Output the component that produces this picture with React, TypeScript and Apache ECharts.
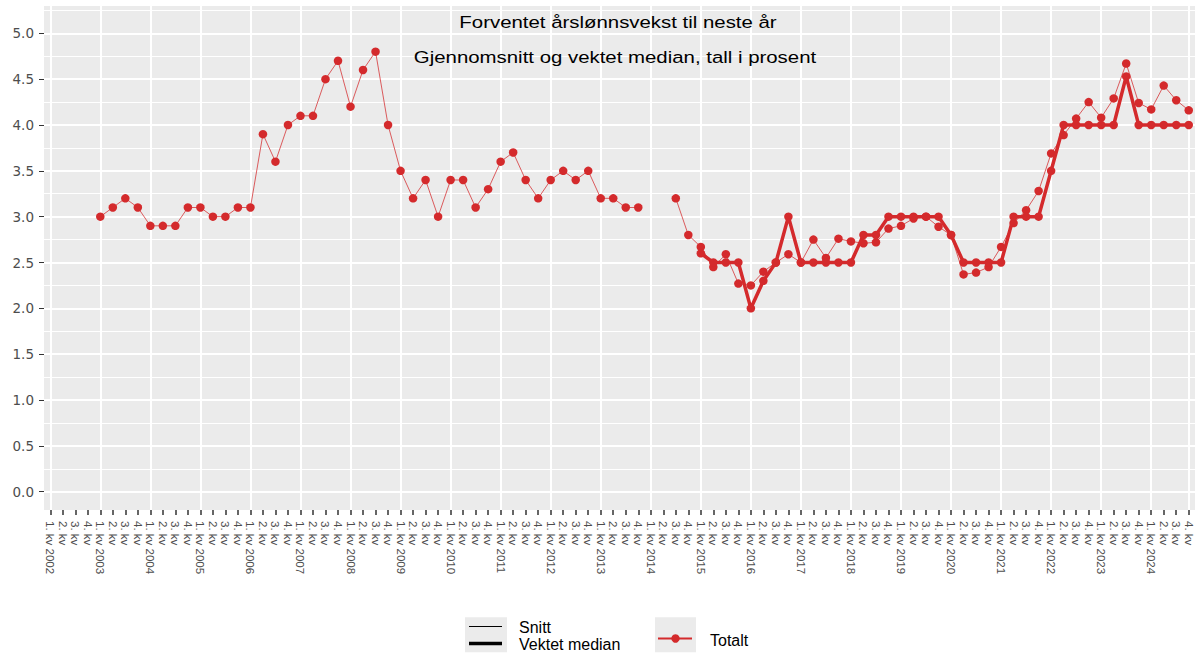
import React, { useEffect, useRef } from "react";
import * as echarts from "echarts";

const years = [
  2002, 2003, 2004, 2005, 2006, 2007, 2008, 2009, 2010, 2011, 2012, 2013,
  2014, 2015, 2016, 2017, 2018, 2019, 2020, 2021, 2022, 2023, 2024,
];
const quarters = ["1. kv", "2. kv", "3. kv", "4. kv"];
const categories = years.flatMap((y) =>
  quarters.map((q, i) => (i === 0 ? `${q} ${y}` : q))
);

// Snitt (gjennomsnitt), per kvartal 2002–2024
const snitt: (number | null)[] = [
  null, null, null, null, // 2002
  3.0, 3.1, 3.2, 3.1, // 2003
  2.9, 2.9, 2.9, 3.1, // 2004
  3.1, 3.0, 3.0, 3.1, // 2005
  3.1, 3.9, 3.6, 4.0, // 2006
  4.1, 4.1, 4.5, 4.7, // 2007
  4.2, 4.6, 4.8, 4.0, // 2008
  3.5, 3.2, 3.4, 3.0, // 2009
  3.4, 3.4, 3.1, 3.3, // 2010
  3.6, 3.7, 3.4, 3.2, // 2011
  3.4, 3.5, 3.4, 3.5, // 2012
  3.2, 3.2, 3.1, 3.1, // 2013
  null, null, 3.2, 2.8, // 2014
  2.67, 2.45, 2.59, 2.27, // 2015
  2.25, 2.4, 2.5, 2.59, // 2016
  2.5, 2.75, 2.55, 2.76, // 2017
  2.73, 2.71, 2.72, 2.87, // 2018
  2.9, 2.98, 3.0, 2.89, // 2019
  2.8, 2.37, 2.39, 2.45, // 2020
  2.67, 2.93, 3.07, 3.28, // 2021
  3.69, 3.89, 4.07, 4.25, // 2022
  4.08, 4.29, 4.67, 4.24, // 2023
  4.17, 4.43, 4.27, 4.16, // 2024
];

// Vektet median, per kvartal 2002–2024
const median: (number | null)[] = [
  null, null, null, null, // 2002
  null, null, null, null, // 2003
  null, null, null, null, // 2004
  null, null, null, null, // 2005
  null, null, null, null, // 2006
  null, null, null, null, // 2007
  null, null, null, null, // 2008
  null, null, null, null, // 2009
  null, null, null, null, // 2010
  null, null, null, null, // 2011
  null, null, null, null, // 2012
  null, null, null, null, // 2013
  null, null, null, null, // 2014
  2.6, 2.5, 2.5, 2.5, // 2015
  2.0, 2.3, 2.5, 3.0, // 2016
  2.5, 2.5, 2.5, 2.5, // 2017
  2.5, 2.8, 2.8, 3.0, // 2018
  3.0, 3.0, 3.0, 3.0, // 2019
  2.8, 2.5, 2.5, 2.5, // 2020
  2.5, 3.0, 3.0, 3.0, // 2021
  3.5, 4.0, 4.0, 4.0, // 2022
  4.0, 4.0, 4.53, 4.0, // 2023
  4.0, 4.0, 4.0, 4.0, // 2024
];

const RED = "#d42a2c";
const SANS = '"Liberation Sans", Arial, sans-serif';

export default function App() {
  const ref = useRef<HTMLDivElement>(null);

  useEffect(() => {
    if (!ref.current) return;
    const chart = echarts.init(ref.current, undefined, { renderer: "svg" });
    const option: any = {
      animation: false,
      backgroundColor: "#ffffff",
      grid: [
        // panel background + x axis
        {
          left: 44,
          right: 1,
          top: 6,
          bottom: 144,
          show: true,
          backgroundColor: "#ebebeb",
          borderWidth: 0,
        },
        // data area, y from 0 to 5
        { left: 44, right: 1, top: 33.3, bottom: 162.3 },
        // strip above 5.0 for the upper minor grid line
        { left: 44, right: 1, top: 10.4, bottom: 620.7 },
      ],
      xAxis: [
        {
          type: "category",
          gridIndex: 0,
          data: categories,
          boundaryGap: true,
          axisLine: { show: false },
          axisTick: {
            show: true,
            alignWithLabel: true,
            interval: 0,
            length: 5,
            lineStyle: { color: "#333333", width: 1.5 },
          },
          axisLabel: {
            interval: 0,
            rotate: -90,
            margin: 11,
            fontSize: 11.5,
            fontFamily: SANS,
            color: "#4d4d4d",
          },
          splitLine: {
            show: true,
            interval: 3,
            alignWithLabel: true,
            lineStyle: { color: "#ffffff", width: 2 },
          },
        },
        {
          type: "category",
          gridIndex: 1,
          data: categories,
          boundaryGap: true,
          show: false,
          splitLine: { show: false },
        },
        {
          type: "category",
          gridIndex: 2,
          data: categories,
          boundaryGap: true,
          show: false,
          splitLine: { show: false },
        },
      ],
      yAxis: [
        {
          type: "value",
          gridIndex: 0,
          min: 0,
          max: 1,
          show: false,
          splitLine: { show: false },
        },
        {
          type: "value",
          gridIndex: 1,
          min: 0,
          max: 5,
          interval: 0.5,
          axisLine: { show: false },
          axisTick: {
            show: true,
            length: 5,
            lineStyle: { color: "#333333", width: 1 },
          },
          axisLabel: {
            margin: 10,
            fontSize: 13.5,
            fontFamily: '"DejaVu Sans", sans-serif',
            color: "#4d4d4d",
            formatter: (v: number) => v.toFixed(1),
          },
          splitLine: { show: true, lineStyle: { color: "#ffffff", width: 2 } },
          minorTick: { show: false, splitNumber: 2 },
          minorSplitLine: {
            show: true,
            lineStyle: { color: "#ffffff", width: 1 },
          },
        },
        {
          type: "value",
          gridIndex: 2,
          min: 5,
          max: 5.25,
          interval: 0.25,
          axisLine: { show: false },
          axisTick: { show: false },
          axisLabel: { show: false },
          splitLine: { show: true, lineStyle: { color: "#ffffff", width: 1 } },
        },
      ],
      series: [
        {
          name: "Snitt",
          type: "line",
          xAxisIndex: 1,
          yAxisIndex: 1,
          data: snitt,
          symbol: "circle",
          symbolSize: 8.5,
          showSymbol: true,
          showAllSymbol: true,
          connectNulls: false,
          lineStyle: { color: RED, width: 1, opacity: 0.75 },
          itemStyle: { color: RED, borderWidth: 0 },
          z: 3,
        },
        {
          name: "Vektet median",
          type: "line",
          xAxisIndex: 1,
          yAxisIndex: 1,
          data: median,
          symbol: "circle",
          symbolSize: 8.5,
          showSymbol: true,
          showAllSymbol: true,
          connectNulls: false,
          lineStyle: { color: RED, width: 3.5 },
          itemStyle: { color: RED, borderWidth: 0 },
          z: 4,
        },
      ],
      graphic: [
        {
          type: "text",
          x: 618,
          y: 22,
          scaleX: 1.2,
          style: {
            text: "Forventet årslønnsvekst til neste år",
            font: `17px ${SANS}`,
            fill: "#000000",
            align: "center",
            verticalAlign: "middle",
          },
          z: 10,
        },
        {
          type: "text",
          x: 615,
          y: 57.5,
          scaleX: 1.2,
          style: {
            text: "Gjennomsnitt og vektet median, tall i prosent",
            font: `17px ${SANS}`,
            fill: "#000000",
            align: "center",
            verticalAlign: "middle",
          },
          z: 10,
        },
        {
          type: "rect",
          shape: { x: 465, y: 617.3, width: 42, height: 35 },
          style: { fill: "#ebebeb" },
        },
        {
          type: "line",
          shape: { x1: 469, y1: 626.5, x2: 502, y2: 626.5 },
          style: { stroke: "#000000", lineWidth: 1 },
        },
        {
          type: "line",
          shape: { x1: 469, y1: 643.5, x2: 502, y2: 643.5 },
          style: { stroke: "#000000", lineWidth: 3.5 },
        },
        {
          type: "text",
          x: 519,
          y: 627.5,
          style: {
            text: "Snitt",
            font: `16px ${SANS}`,
            fill: "#000000",
            align: "left",
            verticalAlign: "middle",
          },
        },
        {
          type: "text",
          x: 519,
          y: 644.5,
          style: {
            text: "Vektet median",
            font: `16px ${SANS}`,
            fill: "#000000",
            align: "left",
            verticalAlign: "middle",
          },
        },
        {
          type: "rect",
          shape: { x: 655, y: 617.3, width: 41, height: 35 },
          style: { fill: "#ebebeb" },
        },
        {
          type: "line",
          shape: { x1: 658, y1: 638.5, x2: 692, y2: 638.5 },
          style: { stroke: RED, lineWidth: 2 },
        },
        {
          type: "circle",
          shape: { cx: 675.5, cy: 638.5, r: 4.2 },
          style: { fill: RED },
        },
        {
          type: "text",
          x: 710,
          y: 640,
          style: {
            text: "Totalt",
            font: `16px ${SANS}`,
            fill: "#000000",
            align: "left",
            verticalAlign: "middle",
          },
        },
      ],
    };
    chart.setOption(option);
    return () => chart.dispose();
  }, []);

  return (
    <div
      ref={ref}
      style={{
        position: "absolute",
        left: 0,
        top: 0,
        width: "1196px",
        height: "654px",
      }}
    />
  );
}
